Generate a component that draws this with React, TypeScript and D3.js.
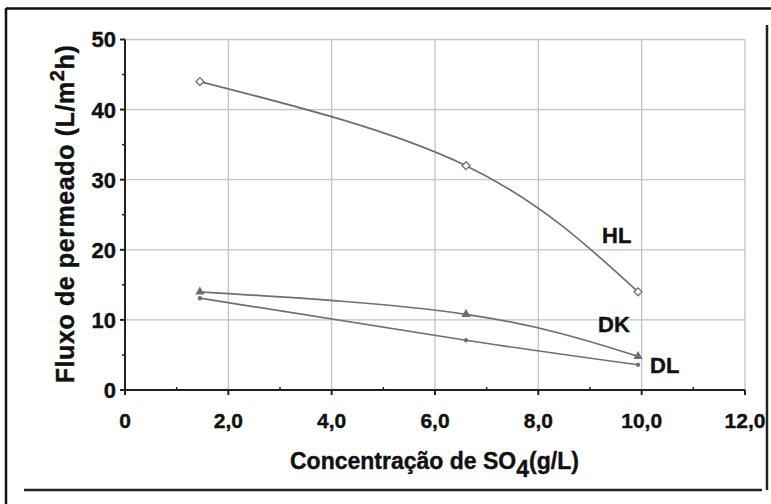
import React from 'react';
import * as d3 from 'd3';

// concentração de SO4 (g/L)
const concentracao = [1.45, 6.6, 9.93];
const fluxoHL = [44, 32, 14];
const fluxoDK = [14, 10.8, 4.8];
const fluxoDL = [13.1, 7.1, 3.6];
const series = [
  { name: 'HL', values: fluxoHL, marker: 'diamond' },
  { name: 'DK', values: fluxoDK, marker: 'triangle' },
  { name: 'DL', values: fluxoDL, marker: 'circle' },
];
const xTicks = [0, 2, 4, 6, 8, 10, 12];
const xMinor = [1, 3, 5, 7, 9, 11];
const yTicks = [0, 10, 20, 30, 40, 50];
const yMinor = [5, 15, 25, 35, 45];

const W = 771;
const H = 504;
const font = '"Liberation Sans", Arial, sans-serif';
const lineColor = '#6f6f6f';
const ink = '#111';

const App = () => {
  const x = d3.scaleLinear().domain([0, 12]).range([125, 745]);
  const y = d3.scaleLinear().domain([0, 50]).range([390, 39.5]);
  const fmt = (v: number) => (v === 0 ? '0' : v.toFixed(1).replace('.', ','));

  const line = d3
    .line<number>()
    .x((d, i) => x(concentracao[i]))
    .y((d) => y(d))
    .curve(d3.curveNatural);

  const symbols: Record<string, any> = {
    diamond: d3.symbol(d3.symbolDiamond2, 40),
    triangle: d3.symbol(d3.symbolTriangle, 22),
    circle: d3.symbol(d3.symbolCircle, 8),
  };

  // label positions from the picture, anchored to the last point of each series
  const labelOffset: Record<string, [number, number]> = {
    HL: [-36, -49],
    DK: [-40, -24],
    DL: [12, 8],
  };

  const bold = { stroke: ink, strokeWidth: 0.4 };

  return (
    <svg
      width={W}
      height={H}
      style={{ position: 'fixed', left: 0, top: 0, background: '#fff' }}
      fontFamily={font}
      fontWeight="bold"
    >
      {/* frame */}
      <line x1={6} x2={771} y1={8.5} y2={8.5} stroke="#111" strokeWidth={2.5} />
      <line x1={6} x2={6} y1={8} y2={504} stroke="#111" strokeWidth={2.5} />
      <line x1={24} x2={762} y1={490} y2={490} stroke="#222" strokeWidth={2.5} />
      <line x1={767} x2={767} y1={25} y2={490} stroke="#222" strokeWidth={2.5} />

      {/* grid */}
      {xTicks.slice(1).map((t) => (
        <line key={'gx' + t} x1={x(t)} x2={x(t)} y1={y(50)} y2={y(0)} stroke="#c4c4c4" strokeWidth={1.3} />
      ))}
      {yTicks.slice(1).map((t) => (
        <line key={'gy' + t} x1={x(0)} x2={x(12)} y1={y(t)} y2={y(t)} stroke="#c4c4c4" strokeWidth={1.3} />
      ))}

      {/* axes */}
      <line x1={x(0)} x2={x(0)} y1={y(50)} y2={y(0)} stroke="#222" strokeWidth={2} />
      <line x1={x(0)} x2={x(12)} y1={y(0)} y2={y(0)} stroke="#222" strokeWidth={2} />
      {yTicks.map((t) => (
        <g key={'yt' + t}>
          <line x1={x(0) - 5} x2={x(0)} y1={y(t)} y2={y(t)} stroke="#222" strokeWidth={2} />
          <text x={x(0) - 9} y={y(t)} dy="0.36em" textAnchor="end" fontSize={22} fill={ink} {...bold}>
            {t}
          </text>
        </g>
      ))}
      {yMinor.map((t) => (
        <line key={'ym' + t} x1={x(0) - 3} x2={x(0)} y1={y(t)} y2={y(t)} stroke="#222" strokeWidth={1.5} />
      ))}
      {xTicks.map((t) => (
        <g key={'xt' + t}>
          <line x1={x(t)} x2={x(t)} y1={y(0)} y2={y(0) + 5} stroke="#222" strokeWidth={2} />
          <text x={x(t)} y={428} textAnchor="middle" fontSize={21} fill={ink} {...bold}>
            {fmt(t)}
          </text>
        </g>
      ))}
      {xMinor.map((t) => (
        <line key={'xm' + t} x1={x(t)} x2={x(t)} y1={y(0) - 3} y2={y(0)} stroke="#222" strokeWidth={1.5} />
      ))}

      {/* series */}
      {series.map((s) => {
        const last = s.values.length - 1;
        const [dx, dy] = labelOffset[s.name];
        return (
          <g key={s.name}>
            <path d={line(s.values) || ''} fill="none" stroke={lineColor} strokeWidth={1.7} />
            {s.values.map((v, i) => (
              <path
                key={i}
                d={symbols[s.marker]() || ''}
                transform={`translate(${x(concentracao[i])},${y(v)})`}
                fill={s.marker === 'diamond' ? '#fff' : lineColor}
                stroke={lineColor}
                strokeWidth={1.3}
              />
            ))}
            <text
              x={x(concentracao[last]) + dx}
              y={y(s.values[last]) + dy}
              fontSize={22}
              fill={ink}
              {...bold}
            >
              {s.name}
            </text>
          </g>
        );
      })}

      {/* axis titles */}
      <text x={290} y={469} fontSize={23} fill={ink} {...bold}>
        Concentração de SO
        <tspan dy={8}>4</tspan>
        <tspan dy={-8}>(g/L)</tspan>
      </text>
      <text
        transform="translate(74,214) rotate(-90)"
        textAnchor="middle"
        fontSize={25}
        letterSpacing={0.6}
        fill={ink}
        {...bold}
      >
        Fluxo de permeado (L/m
        <tspan dy={-10} fontSize={20}>2</tspan>
        <tspan dy={10}>h)</tspan>
      </text>
    </svg>
  );
};

export default App;
